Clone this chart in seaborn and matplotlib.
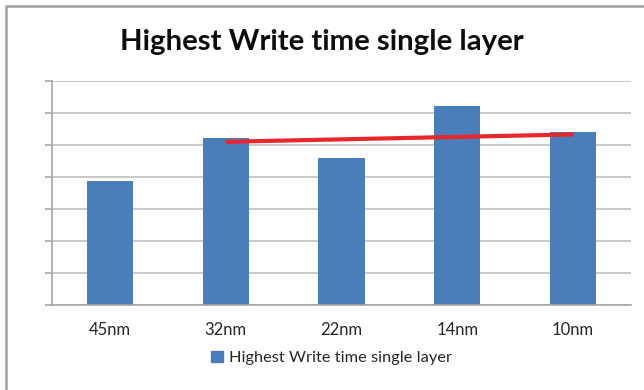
import matplotlib
matplotlib.use("Agg")
import matplotlib.pyplot as plt
from matplotlib.patches import Rectangle, Patch
import seaborn as sns
import pandas as pd

# Data
categories = ["45nm", "32nm", "22nm", "14nm", "10nm"]
write_time = [3.88, 5.23, 4.59, 6.21, 5.40]
series_name = "Highest Write time single layer"
trend_cats = ["32nm", "10nm"]
trend_vals = [5.10, 5.33]

sns.set_theme(style="white")
plt.rcParams["font.family"] = ["Lato", "DejaVu Sans"]

df = pd.DataFrame({"node": categories, "time": write_time})

fig = plt.figure(figsize=(6.44, 3.90), dpi=100)
ax = fig.add_axes([52 / 644, 1 - 305 / 390, (631 - 52) / 644, (305 - 81) / 390])

bar_color = "#4a7ebb"
sns.barplot(data=df, x="node", y="time", order=categories, color=bar_color,
            width=0.4, saturation=1, ax=ax, zorder=2, edgecolor=bar_color, linewidth=0)

# trend line across the later nodes
tx = [categories.index(c) for c in trend_cats]
ax.plot(tx, trend_vals, color="#e8262c", linewidth=3, solid_capstyle="butt", zorder=3)

ax.set_xlim(-0.5, len(categories) - 0.5)
ax.set_ylim(0, 7)
ax.set_yticks(range(0, 8))
ax.set_yticklabels([])
ax.yaxis.grid(True, color="#bfbfbf", linewidth=1.2, zorder=0)
ax.set_axisbelow(True)
ax.set_xlabel("")
ax.set_ylabel("")

ax.set_xticks(range(len(categories)))
ax.set_xticklabels(categories, fontsize=12, color="#262626")
ax.set_xticks([i - 0.5 for i in range(len(categories) + 1)], minor=True)
ax.tick_params(axis="x", which="major", length=0, pad=12)
ax.tick_params(axis="x", which="minor", length=5, width=1.2, color="#a6a6a6", direction="out")
ax.tick_params(axis="y", which="major", length=5, width=1.2, color="#a6a6a6", direction="out", left=True)

for s in ["top", "right"]:
    ax.spines[s].set_visible(False)
for s in ["left", "bottom"]:
    ax.spines[s].set_color("#a6a6a6")
    ax.spines[s].set_linewidth(1.2)

fig.text(0.5, 1 - 42 / 390, "Highest Write time single layer", ha="center", va="center",
         fontsize=21.2, fontweight="bold", color="#0d0d0d")

handle = Patch(facecolor=bar_color, edgecolor=bar_color)
fig.legend([handle], [series_name], loc="center", bbox_to_anchor=(0.515, 1 - 358 / 390),
           frameon=False, fontsize=11.8, handlelength=0.7, handleheight=0.7,
           handletextpad=0.4, labelcolor="#262626")

# chart frame
fig.patches.append(Rectangle((6 / 644, -0.1), 1.2, 1 - 6 / 390 + 0.1, transform=fig.transFigure,
                             fill=False, edgecolor="#a0a0a0", linewidth=1.8, zorder=10))

fig.savefig("out.png", dpi=100, facecolor="white")
